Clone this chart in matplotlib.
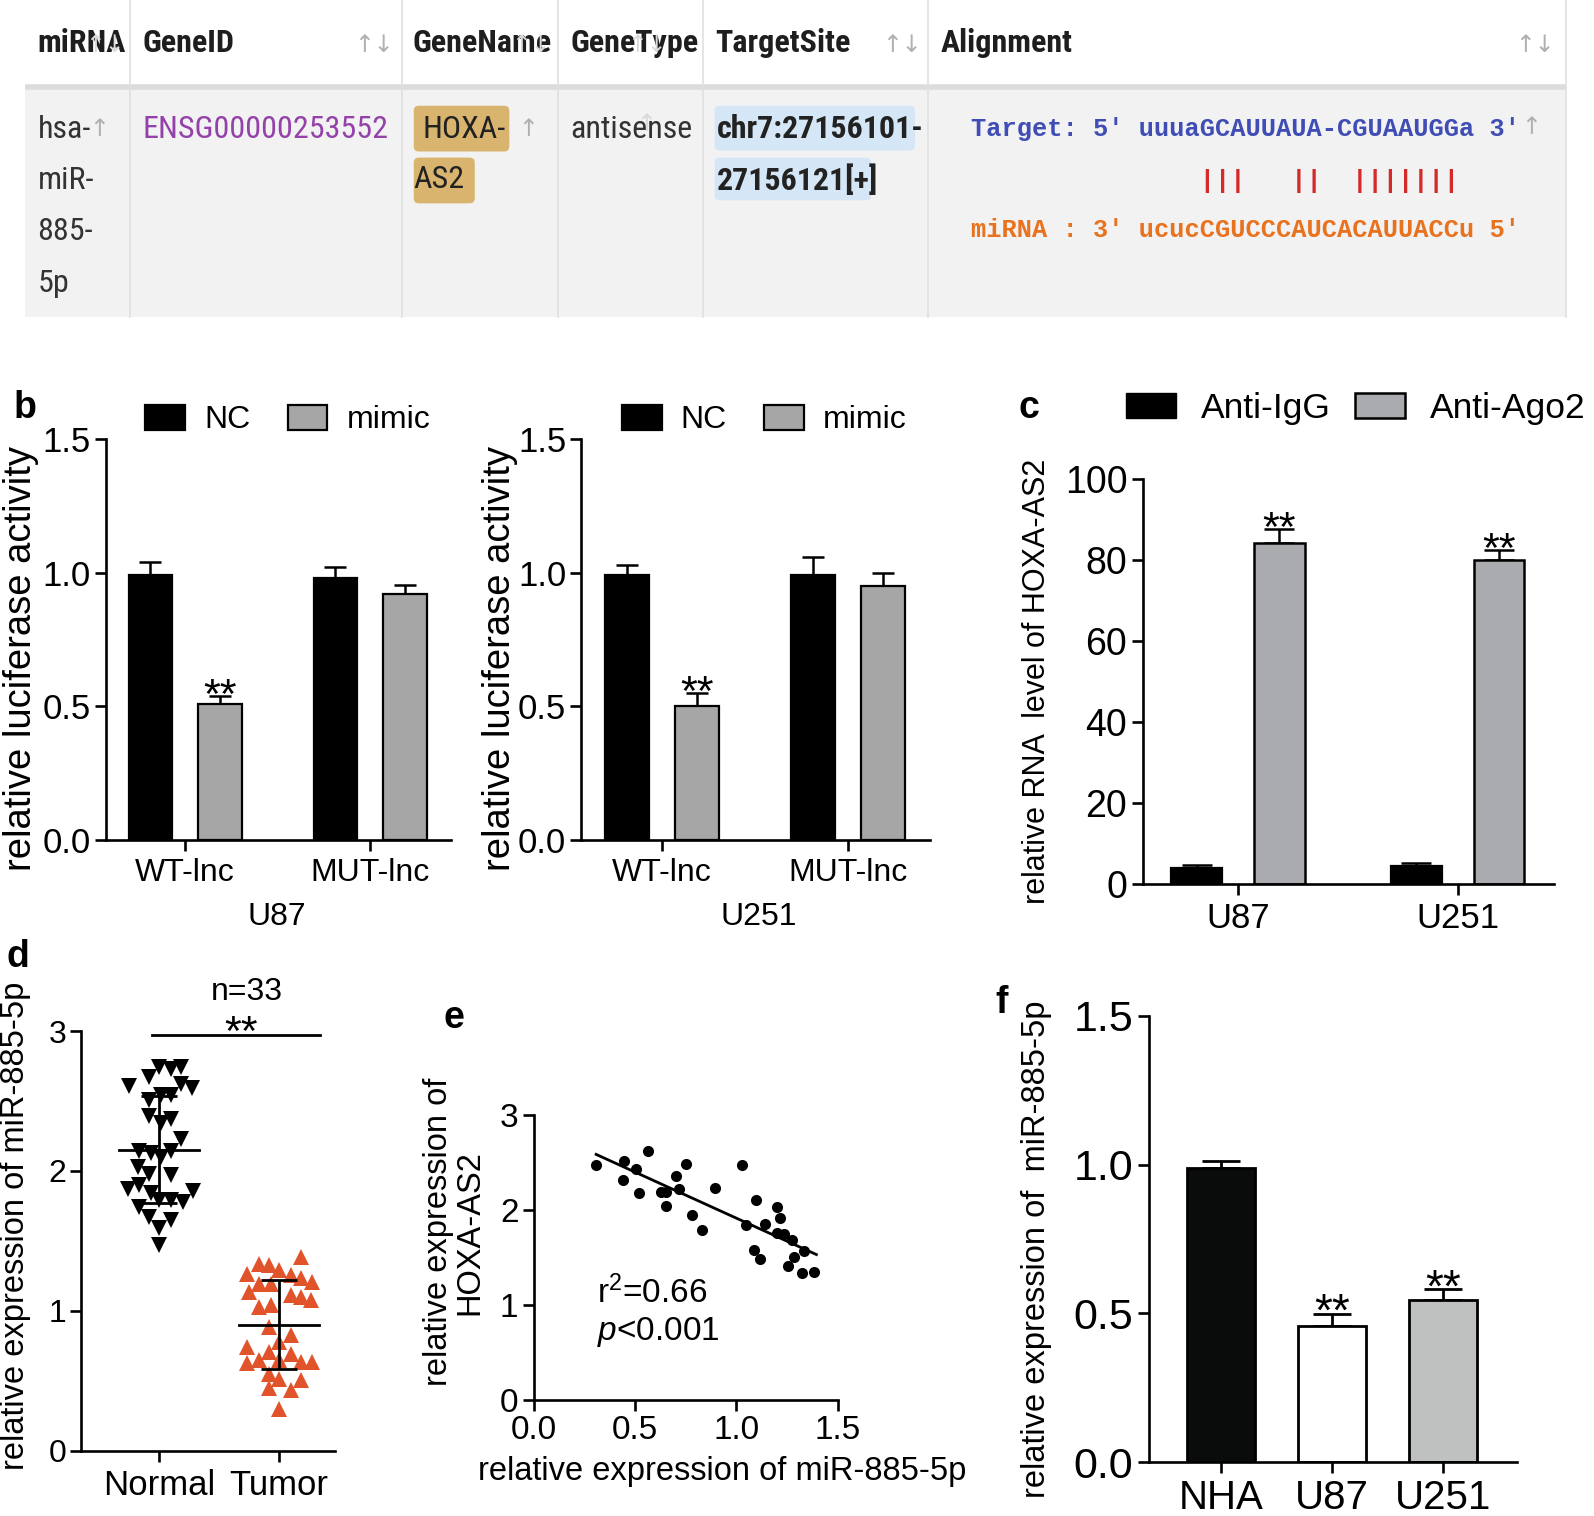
import numpy as np
import matplotlib
matplotlib.use('Agg')
import matplotlib.pyplot as plt
from matplotlib.patches import Rectangle, FancyBboxPatch, Patch
from matplotlib import font_manager as fm

SANS = 'Liberation Sans'
MONO = 'Liberation Mono'

byname = {}
for _f in fm.fontManager.ttflist:
    byname.setdefault(_f.name, []).append(_f)


def pick_narrow():
    for nm in ['Liberation Sans Narrow', 'Arial Narrow', 'Roboto Condensed',
               'Archivo Narrow', 'Open Sans Condensed', 'DejaVu Sans Condensed']:
        if nm in byname:
            return dict(family=nm), nm
    for nm in ['Noto Sans', 'DejaVu Sans', 'Open Sans', 'Roboto']:
        for f in byname.get(nm, []):
            if f.stretch in ('condensed', 'semi-condensed', 'extra-condensed'):
                return dict(family=nm, stretch=f.stretch), nm + ' ' + f.stretch
    return dict(family=SANS), 'none'


NARROW_KW, NARROW_NAME = pick_narrow()

plt.rcParams['font.family'] = [SANS, 'DejaVu Sans']
plt.rcParams['mathtext.fontset'] = 'custom'
plt.rcParams['mathtext.rm'] = SANS
plt.rcParams['mathtext.it'] = SANS + ':italic'

# ---------------- data ----------------
# panel a (table)
table_headers = ['miRNA', 'GeneID', 'GeneName', 'GeneType', 'TargetSite', 'Alignment']
mirna_lines = ['hsa-', 'miR-', '885-', '5p']
gene_id = 'ENSG00000253552'
gene_name_lines = ['HOXA-', 'AS2']
gene_type = 'antisense'
target_site_lines = ['chr7:27156101-', '27156121[+]']
align_target = "Target: 5' uuuaGCAUUAUA-CGUAAUGGa 3'"
align_pairs = "               |||   ||  |||||||"
align_mirna = "miRNA : 3' ucucCGUCCCAUCACAUUACCu 5'"

# panel b
b_groups = ['WT-lnc', 'MUT-lnc']
b_legend = ['NC', 'mimic']
u87_nc = [0.99, 0.98]
u87_nc_err = [0.05, 0.04]
u87_mimic = [0.51, 0.92]
u87_mimic_err = [0.03, 0.035]
u251_nc = [0.99, 0.99]
u251_nc_err = [0.04, 0.07]
u251_mimic = [0.50, 0.95]
u251_mimic_err = [0.05, 0.05]

# panel c
c_cells = ['U87', 'U251']
c_legend = ['Anti-IgG', 'Anti-Ago2']
c_igg = [3.9, 4.3]
c_igg_err = [0.7, 0.7]
c_ago2 = [84.2, 79.9]
c_ago2_err = [3.5, 2.6]

# panel d
d_groups = ['Normal', 'Tumor']
d_normal = [2.61, 2.67, 2.74, 2.73, 2.74, 2.62, 2.59, 2.54, 2.51, 2.54, 2.39,
            2.34, 2.37, 2.23, 2.14, 2.13, 2.10, 2.14, 2.03, 1.98, 1.97, 1.87,
            1.90, 1.84, 1.79, 1.79, 1.78, 1.86, 1.74, 1.67, 1.65, 1.59, 1.47]
d_normal_jit = [-0.256, -0.089, 0.0, 0.097, 0.181, 0.181, 0.272, 0.014, -0.083,
                0.097, -0.083, 0.014, 0.097, 0.181, -0.167, -0.069, 0.014, 0.097,
                -0.181, -0.083, 0.097, -0.264, -0.172, -0.069, 0.0, 0.097, 0.194,
                0.278, -0.167, -0.083, 0.097, 0.0, 0.0]
d_tumor = [1.386, 1.339, 1.327, 1.267, 1.291, 1.256, 1.196, 1.196, 1.232, 1.208,
           1.137, 1.113, 1.101, 1.077, 1.030, 1.041, 0.886, 0.827, 0.779, 0.744,
           0.708, 0.696, 0.625, 0.648, 0.648, 0.637, 0.637, 0.553, 0.517, 0.505,
           0.446, 0.434, 0.303]
d_tumor_jit = [0.181, -0.167, -0.083, -0.264, 0.0, 0.097, -0.167, -0.069, 0.181,
               0.278, -0.250, 0.097, 0.181, 0.264, -0.167, -0.069, -0.083, 0.097,
               0.0, -0.264, -0.083, 0.097, -0.264, -0.167, 0.0, 0.181, 0.278,
               -0.083, 0.0, 0.181, -0.083, 0.097, 0.0]

# panel e
e_mir = [0.308, 0.445, 0.565, 0.506, 0.442, 0.519, 0.753, 0.704, 0.717, 0.626,
         0.654, 0.651, 0.780, 0.829, 0.893, 1.030, 1.047, 1.099, 1.088, 1.118,
         1.142, 1.203, 1.216, 1.203, 1.236, 1.274, 1.286, 1.253, 1.332, 1.324, 1.385]
e_hoxa = [2.480, 2.522, 2.620, 2.434, 2.323, 2.183, 2.487, 2.365, 2.225, 2.190,
          2.190, 2.040, 1.946, 1.795, 2.232, 2.480, 1.848, 2.113, 1.586, 1.491,
          1.858, 2.033, 1.918, 1.760, 1.753, 1.691, 1.509, 1.411, 1.568, 1.334, 1.352]

# panel f
f_cells = ['NHA', 'U87', 'U251']
f_vals = [0.99, 0.458, 0.544]
f_err = [0.022, 0.041, 0.037]

# ---------------- layout helpers ----------------
W, H = 1568, 1491
fig = plt.figure(figsize=(15.94, 15.16), dpi=100)


def add_ax(l, t, r, b):
    return fig.add_axes([l / W, 1 - b / H, (r - l) / W, (b - t) / H])


def style(ax, lw=1.9):
    for s in ['top', 'right']:
        ax.spines[s].set_visible(False)
    for s in ['left', 'bottom']:
        ax.spines[s].set_linewidth(lw)
    ax.tick_params(width=lw, length=8, direction='out', pad=3)


def letter(ch, x, y):
    fig.text(x / W, 1 - y / H, ch, fontsize=27, fontweight='bold',
             ha='center', va='baseline', family=SANS)


def stars(ax, x, y, size=31, dy=-9):
    ax.annotate('**', xy=(x, y), xytext=(0, dy), textcoords='offset points',
                ha='center', va='baseline', fontsize=size, annotation_clip=False)

# ---------------- panel a ----------------
TS = 23 if NARROW_NAME != 'none' else 19.5
axa = fig.add_axes([0, 1 - 330 / H, 1, 330 / H])
axa.set_xlim(0, W)
axa.set_ylim(330, 0)
axa.axis('off')
axa.add_patch(Rectangle((25, 86), 1515, 226, facecolor='#f2f2f2', edgecolor='none'))
axa.plot([25, 1540], [86, 86], color='#dcdcdc', lw=4, solid_capstyle='butt')
for xc in [128, 395, 549, 692, 913, 1540]:
    axa.plot([xc, xc], [0, 312], color='#e0e0e0', lw=1.2)
hx = [37, 140, 406, 561, 704, 925]
for t, xh in zip(table_headers, hx):
    axa.text(xh, 42, t, fontsize=TS, fontweight='bold', ha='left', va='center',
             color='#1e1e1e', **NARROW_KW)
arrow_kw = dict(fontsize=17, family='DejaVu Sans', ha='center', va='center')
for xa, col in [(368, '#b0b0b0'), (887, '#b0b0b0'), (1510, '#b0b0b0'),
                (103, '#dadada'), (522, '#dadada'), (636, '#dadada')]:
    axa.text(xa, 44, '↑↓', color=col, **arrow_kw)
for i, t in enumerate(mirna_lines):
    axa.text(37, 127 + 50.5 * i, t, fontsize=TS, ha='left', va='center',
             color='#333333', **NARROW_KW)
axa.text(97, 127, '↑', color='#b0b0b0', **arrow_kw)
axa.text(140, 127, gene_id, fontsize=TS, ha='left', va='center', color='#9441aa',
         **NARROW_KW)
axa.add_patch(FancyBboxPatch((407, 104), 94, 45, boxstyle='round,pad=0,rounding_size=5',
                             facecolor='#d9b46e', edgecolor='none'))
axa.add_patch(FancyBboxPatch((407, 155), 60, 45, boxstyle='round,pad=0,rounding_size=5',
                             facecolor='#d9b46e', edgecolor='none'))
axa.text(416, 127, gene_name_lines[0], fontsize=TS, ha='left', va='center',
         color='#222222', **NARROW_KW)
axa.text(407, 177, gene_name_lines[1], fontsize=TS, ha='left', va='center',
         color='#222222', **NARROW_KW)
axa.text(519, 127, '↑', color='#b0b0b0', **arrow_kw)
axa.text(561, 127, gene_type, fontsize=TS, ha='left', va='center', color='#333333',
         **NARROW_KW)
axa.text(636, 122, '↑', color='#dadada', **arrow_kw)
axa.add_patch(FancyBboxPatch((703, 104), 197, 44, boxstyle='round,pad=0,rounding_size=5',
                             facecolor='#d5e7f6', edgecolor='none'))
axa.add_patch(FancyBboxPatch((703, 155), 154, 42, boxstyle='round,pad=0,rounding_size=5',
                             facecolor='#d5e7f6', edgecolor='none'))
axa.text(705, 127, target_site_lines[0], fontsize=TS, fontweight='bold', ha='left',
         va='center', color='#222222', **NARROW_KW)
axa.text(705, 177, target_site_lines[1], fontsize=TS, fontweight='bold', ha='left',
         va='center', color='#222222', **NARROW_KW)
mono_kw = dict(fontsize=18.3, family=MONO, fontweight='bold', ha='left', va='center')
axa.text(955, 127, align_target, color='#3f4db5', **mono_kw)
axa.text(955, 178, align_pairs, color='#d42a2a', **mono_kw)
axa.text(955, 226, align_mirna, color='#e8721e', **mono_kw)
axa.text(1506, 125, '↑', color='#b0b0b0', **arrow_kw)

# ---------------- panel b ----------------
gray_b = '#a6a6a6'


def panel_b(ax, nc, nc_err, mim, mim_err, cell):
    x = np.arange(len(b_groups))
    off, wd = 0.188, 0.235
    ax.bar(x - off, nc, wd, color='black', edgecolor='black', lw=1.6, zorder=2)
    ax.bar(x + off, mim, wd, color=gray_b, edgecolor='black', lw=1.6, zorder=2)
    ax.errorbar(x - off, nc, yerr=[np.zeros(len(nc)), nc_err], fmt='none',
                ecolor='black', elinewidth=1.8, capsize=8, capthick=1.8, zorder=1)
    ax.errorbar(x + off, mim, yerr=[np.zeros(len(mim)), mim_err], fmt='none',
                ecolor='black', elinewidth=1.8, capsize=8, capthick=1.8, zorder=1)
    stars(ax, x[0] + off, mim[0] + mim_err[0])
    ax.set_xlim(-0.43, 1.44)
    ax.set_ylim(0, 1.5)
    ax.set_yticks([0, 0.5, 1.0, 1.5])
    ax.set_yticklabels(['0.0', '0.5', '1.0', '1.5'])
    ax.set_xticks(x)
    ax.set_xticklabels(b_groups)
    style(ax)
    ax.tick_params(axis='y', labelsize=25)
    ax.tick_params(axis='x', labelsize=23, pad=5)
    ax.set_ylabel('relative luciferase activity', fontsize=27.5, va='center')
    ax.yaxis.set_label_coords(-0.246, 0.452)
    ax.set_xlabel(cell, fontsize=23, va='center')
    ax.xaxis.set_label_coords(0.494, -0.193)
    handles = [Patch(facecolor='black', edgecolor='black', lw=1.6),
               Patch(facecolor=gray_b, edgecolor='black', lw=1.6)]
    ax.legend(handles, b_legend, loc='center left', bbox_to_anchor=(0.115, 1.048),
              ncol=2, frameon=False, fontsize=23, handlelength=1.25,
              handleheight=0.85, handletextpad=0.6, columnspacing=1.15,
              borderpad=0, borderaxespad=0)


ax_b1 = add_ax(104, 432, 444, 826)
panel_b(ax_b1, u87_nc, u87_nc_err, u87_mimic, u87_mimic_err, 'U87')
ax_b2 = add_ax(572, 432, 915, 826)
panel_b(ax_b2, u251_nc, u251_nc_err, u251_mimic, u251_mimic_err, 'U251')
ax_b2.yaxis.set_label_coords(-0.234, 0.452)
ax_b2.xaxis.set_label_coords(0.508, -0.193)
letter('b', 25, 411)

# ---------------- panel c ----------------
ax_c = add_ax(1124, 471, 1529, 869)
xc = np.arange(len(c_cells))
offc, wdc = 0.188, 0.232
gray_c = '#a9abae'
ax_c.bar(xc - offc, c_igg, wdc, color='black', edgecolor='black', lw=1.6, zorder=2)
ax_c.bar(xc + offc, c_ago2, wdc, color=gray_c, edgecolor='black', lw=1.8, zorder=2)
ax_c.errorbar(xc - offc, c_igg, yerr=[np.zeros(2), c_igg_err], fmt='none', ecolor='black',
              elinewidth=1.8, capsize=11, capthick=1.8, zorder=1)
ax_c.errorbar(xc + offc, c_ago2, yerr=[np.zeros(2), c_ago2_err], fmt='none', ecolor='black',
              elinewidth=1.8, capsize=11, capthick=1.8, zorder=1)
for i in range(2):
    stars(ax_c, xc[i] + offc, c_ago2[i] + c_ago2_err[i], size=31)
ax_c.set_xlim(-0.435, 1.44)
ax_c.set_ylim(0, 100)
ax_c.set_yticks([0, 20, 40, 60, 80, 100])
ax_c.set_xticks(xc)
ax_c.set_xticklabels(c_cells)
style(ax_c)
ax_c.tick_params(axis='y', labelsize=27)
ax_c.tick_params(axis='x', labelsize=25, pad=5)
ax_c.set_ylabel('relative RNA  level of HOXA-AS2', fontsize=22, va='center')
ax_c.yaxis.set_label_coords((1020 - 1124) / 405, 0.5)
ax_c.legend([Patch(facecolor='black', edgecolor='black'),
             Patch(facecolor=gray_c, edgecolor='black', lw=1.8)], c_legend,
            loc='center left', bbox_to_anchor=((1108 - 1124) / 405, (869 - 402) / 398),
            ncol=2, frameon=False, fontsize=25.5, handlelength=1.4, handleheight=0.7,
            handletextpad=0.7, columnspacing=0.7, borderpad=0, borderaxespad=0)
letter('c', 1012, 411)

# ---------------- panel d ----------------
ax_d = add_ax(80, 1014, 330, 1427)
red_d = '#e0532b'
nrm = np.array(d_normal)
tum = np.array(d_tumor)
ax_d.plot(0 + np.array(d_normal_jit), nrm, 'v', color='black', ms=11, mew=0, zorder=2)
ax_d.plot(1 + np.array(d_tumor_jit), tum, '^', color=red_d, ms=11, mew=0, zorder=2)
for xg, vals in [(0, nrm), (1, tum)]:
    m, sd = vals.mean(), vals.std(ddof=1)
    ax_d.plot([xg - 0.335, xg + 0.335], [m, m], color='black', lw=2.0, zorder=3)
    ax_d.errorbar([xg], [m], yerr=[[sd], [sd]], fmt='none', ecolor='black',
                  elinewidth=2.0, capsize=13, capthick=2.0, zorder=3)
ax_d.plot([-0.06, 1.34], [2.97, 2.97], color='black', lw=2.0, clip_on=False)
ax_d.annotate('**', xy=(0.68, 2.97), xytext=(0, -7), textcoords='offset points',
              ha='center', va='baseline', fontsize=31, annotation_clip=False)
ax_d.text(0.73, 3.28, 'n=33', fontsize=23, ha='center', va='center')
ax_d.set_xlim(-0.65, 1.47)
ax_d.set_ylim(0, 3)
ax_d.set_yticks([0, 1, 2, 3])
ax_d.set_xticks([0, 1])
ax_d.set_xticklabels(d_groups)
style(ax_d)
ax_d.tick_params(axis='y', labelsize=23)
ax_d.tick_params(axis='x', labelsize=25, pad=5)
ax_d.set_ylabel('relative expression of miR-885-5p', fontsize=23.5, va='center')
ax_d.yaxis.set_label_coords((15 - 80) / 250, 0.537)
letter('d', 18, 951)

# ---------------- panel e ----------------
ax_e = add_ax(525, 1097, 824, 1377)
ex = np.array(e_mir)
ey = np.array(e_hoxa)
ax_e.plot(ex, ey, 'o', color='black', ms=8, mew=0, zorder=2)
k, b0 = np.polyfit(ex, ey, 1)
xx = np.array([ex.min(), ex.max() + 0.01])
ax_e.plot(xx, k * xx + b0, color='black', lw=2.0, zorder=1)
ax_e.text(0.31, 1.13, r'r$^{2}$=0.66', fontsize=24, ha='left', va='center')
ax_e.text(0.31, 0.72, r'$p$<0.001', fontsize=24, ha='left', va='center')
ax_e.set_xlim(0, 1.5)
ax_e.set_ylim(0, 3)
ax_e.set_xticks([0, 0.5, 1.0, 1.5])
ax_e.set_xticklabels(['0.0', '0.5', '1.0', '1.5'])
ax_e.set_yticks([0, 1, 2, 3])
style(ax_e)
ax_e.tick_params(labelsize=24)
ax_e.set_xlabel('relative expression of miR-885-5p', fontsize=23.5, va='center')
ax_e.xaxis.set_label_coords((710 - 525) / 299, (1377 - 1447) / 280)
ax_e.set_ylabel('relative expression of\nHOXA-AS2', fontsize=23.5, va='center',
                linespacing=1.0)
ax_e.yaxis.set_label_coords((447 - 525) / 299, 0.59)
letter('e', 447, 1011)

# ---------------- panel f ----------------
ax_f = add_ax(1130, 999, 1492, 1438)
xf = np.arange(len(f_cells))
f_colors = ['#0a0c0c', 'white', '#bfc1c0']
ax_f.bar(xf, f_vals, 0.61, color=f_colors, edgecolor='black', lw=2.0, zorder=2)
ax_f.errorbar(xf, f_vals, yerr=[np.zeros(3), f_err], fmt='none', ecolor='black',
              elinewidth=2.0, capsize=14, capthick=2.0, zorder=1)
for i in [1, 2]:
    stars(ax_f, xf[i], f_vals[i] + f_err[i], size=33, dy=-9)
ax_f.set_xlim(-0.65, 2.66)
ax_f.set_ylim(0, 1.5)
ax_f.set_yticks([0, 0.5, 1.0, 1.5])
ax_f.set_yticklabels(['0.0', '0.5', '1.0', '1.5'])
ax_f.set_xticks(xf)
ax_f.set_xticklabels(f_cells)
style(ax_f)
ax_f.tick_params(axis='y', labelsize=31)
ax_f.tick_params(axis='x', labelsize=29, pad=4)
ax_f.set_ylabel('relative expression of  miR-885-5p', fontsize=23.5, va='center')
ax_f.yaxis.set_label_coords((1020 - 1130) / 362, 0.478)
letter('f', 985, 996)

fig.savefig('out.png', dpi=100)
